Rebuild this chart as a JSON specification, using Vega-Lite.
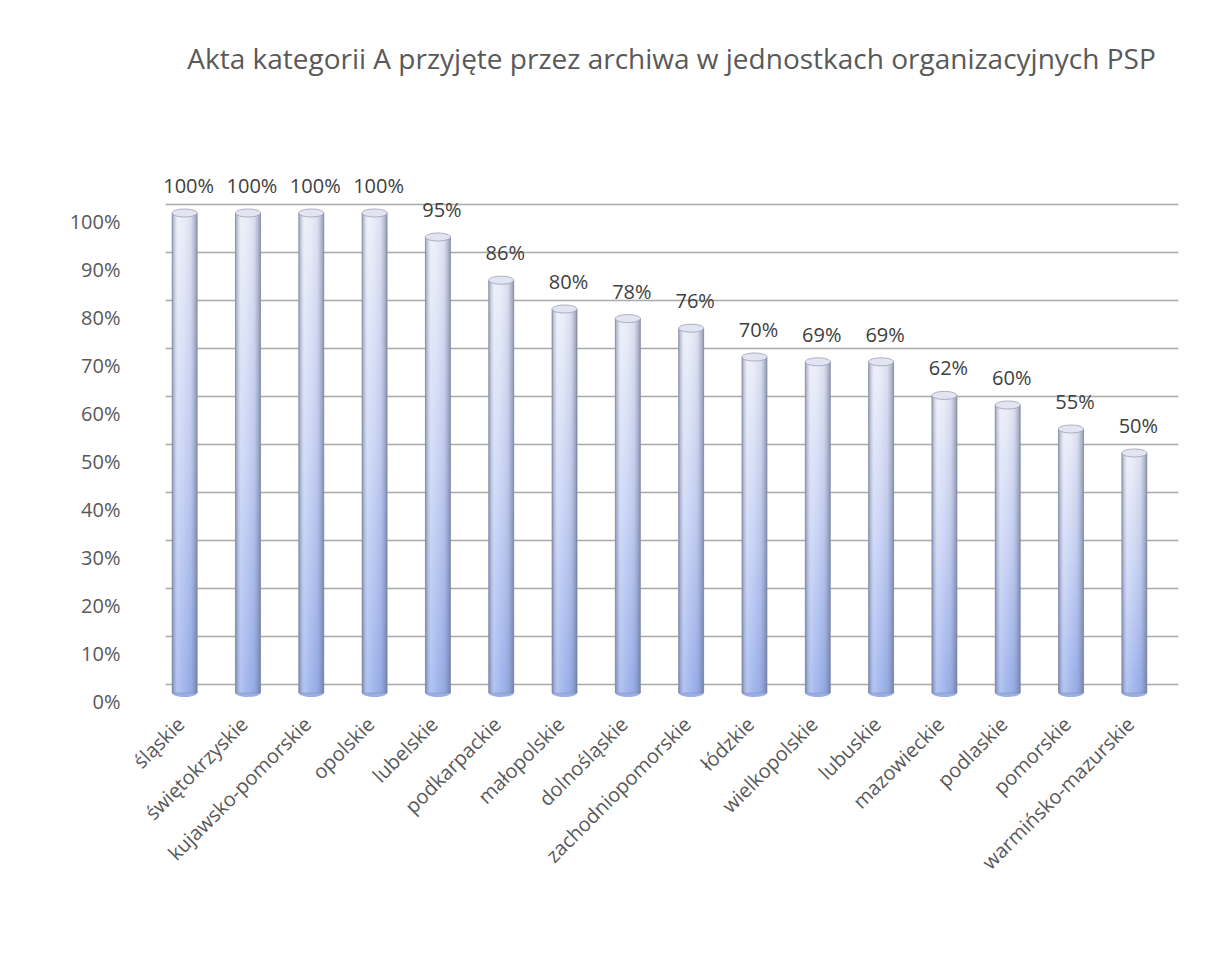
{
  "$schema": "https://vega.github.io/schema/vega-lite/v6.json",
  "width": 1013,
  "height": 480,
  "autosize": {"type": "none"},
  "padding": {"left": 165, "top": 204, "right": 31, "bottom": 290},
  "background": "white",
  "title": {
    "text": "Akta kategorii A przyjęte przez archiwa w jednostkach organizacyjnych PSP",
    "anchor": "middle",
    "frame": "group",
    "baseline": "alphabetic",
    "offset": 80,
    "font": "Open Sans",
    "fontSize": 28,
    "fontWeight": "normal",
    "color": "#595959"
  },
  "config": {
    "view": {"stroke": null},
    "font": "Open Sans"
  },
  "data": {
    "values": [
      {"woj": "śląskie", "v": 1.00},
      {"woj": "świętokrzyskie", "v": 1.00},
      {"woj": "kujawsko-pomorskie", "v": 1.00},
      {"woj": "opolskie", "v": 1.00},
      {"woj": "lubelskie", "v": 0.95},
      {"woj": "podkarpackie", "v": 0.86},
      {"woj": "małopolskie", "v": 0.80},
      {"woj": "dolnośląskie", "v": 0.78},
      {"woj": "zachodniopomorskie", "v": 0.76},
      {"woj": "łódzkie", "v": 0.70},
      {"woj": "wielkopolskie", "v": 0.69},
      {"woj": "lubuskie", "v": 0.69},
      {"woj": "mazowieckie", "v": 0.62},
      {"woj": "podlaskie", "v": 0.60},
      {"woj": "pomorskie", "v": 0.55},
      {"woj": "warmińsko-mazurskie", "v": 0.50}
    ]
  },
  "encoding": {
    "x": {
      "field": "woj",
      "type": "nominal",
      "sort": null,
      "scale": {"paddingInner": 0, "paddingOuter": 0},
      "axis": {
        "title": null,
        "labelAngle": -45,
        "labelFontSize": 20,
        "labelColor": "#595959",
        "labelPadding": 30,
        "labelOffset": -22,
        "labelLimit": 0,
        "ticks": false,
        "domain": false,
        "grid": false
      }
    }
  },
  "layer": [
    {
      "mark": {
        "type": "point",
        "shape": "M-1,0A1,0.32,0,1,0,1,0A1,0.32,0,1,0,-1,0Z",
        "size": 625,
        "filled": true,
        "opacity": 1,
        "color": "#98afec",
        "xOffset": -12,
        "yOffset": 9
      },
      "encoding": {
        "y": {"datum": 0, "type": "quantitative"}
      }
    },
    {
      "mark": {
        "type": "bar",
        "width": 25,
        "xOffset": -12,
        "yOffset": 9,
        "stroke": "#8d96b0",
        "strokeWidth": 0.8,
        "color": {
          "gradient": "linear",
          "x1": 0, "y1": 0, "x2": 0, "y2": 1,
          "stops": [
            {"offset": 0, "color": "#e9ecf8"},
            {"offset": 0.5, "color": "#c6d1f5"},
            {"offset": 1, "color": "#98afec"}
          ]
        }
      },
      "encoding": {
        "y": {
          "field": "v",
          "type": "quantitative",
          "scale": {"domain": [0, 1]},
          "axis": {
            "title": null,
            "values": [0, 0.1, 0.2, 0.3, 0.4, 0.5, 0.6, 0.7, 0.8, 0.9, 1],
            "format": ".0%",
            "labelFontSize": 20,
            "labelColor": "#595959",
            "labelPadding": 45,
            "labelOffset": 18,
            "ticks": false,
            "domain": false,
            "grid": true,
            "gridColor": "#a9a9a9",
            "gridWidth": 1.5
          }
        }
      }
    },
    {
      "mark": {
        "type": "bar",
        "width": 25,
        "xOffset": -12,
        "yOffset": 9,
        "color": {
          "gradient": "linear",
          "x1": 0, "y1": 0, "x2": 1, "y2": 0,
          "stops": [
            {"offset": 0, "color": "rgba(90,100,130,0.55)"},
            {"offset": 0.22, "color": "rgba(255,255,255,0.25)"},
            {"offset": 0.45, "color": "rgba(255,255,255,0.1)"},
            {"offset": 0.75, "color": "rgba(120,130,160,0.12)"},
            {"offset": 1, "color": "rgba(90,100,130,0.6)"}
          ]
        }
      },
      "encoding": {
        "y": {"field": "v", "type": "quantitative"}
      }
    },
    {
      "mark": {
        "type": "point",
        "shape": "M-1,0A1,0.32,0,1,0,1,0A1,0.32,0,1,0,-1,0Z",
        "size": 625,
        "filled": true,
        "opacity": 1,
        "color": "#e2e5f1",
        "stroke": "#9aa0b3",
        "strokeWidth": 0.8,
        "xOffset": -12,
        "yOffset": 9
      },
      "encoding": {
        "y": {"field": "v", "type": "quantitative"}
      }
    },
    {
      "mark": {
        "type": "text",
        "fontSize": 20,
        "color": "#404040",
        "baseline": "middle",
        "xOffset": -8,
        "yOffset": -17
      },
      "encoding": {
        "y": {"field": "v", "type": "quantitative"},
        "text": {"field": "v", "type": "quantitative", "format": ".0%"}
      }
    }
  ]
}
